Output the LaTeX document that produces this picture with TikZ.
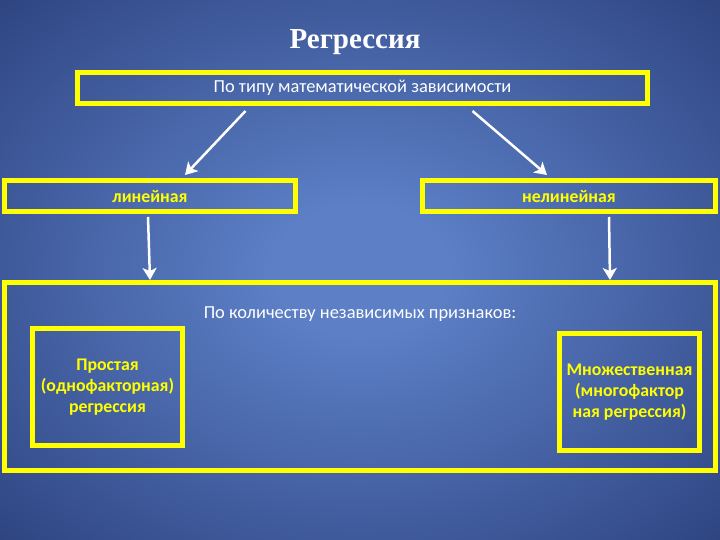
\documentclass[tikz,border=0pt]{standalone}
\usepackage{fontspec}
\setmainfont{Carlito}
\newfontfamily\titlefont{Liberation Serif}
\usetikzlibrary{arrows.meta}
\definecolor{bgc}{RGB}{92,127,198}
\definecolor{bge}{RGB}{24,40,96}
\definecolor{ylw}{RGB}{255,255,0}
\pgfdeclareradialshading{bgshade}{\pgfpoint{0bp}{0bp}}{color(0bp)=(bgc); color(6bp)=(bgc); color(50bp)=(bge); color(75bp)=(bge)}
\tikzset{
  ybox/.style={draw=ylw, line width=5pt, inner sep=0pt, align=center},
  wtext/.style={text=white, font=\fontsize{18.4}{21}\selectfont},
  ytext/.style={text=ylw, font=\fontsize{17.8}{21}\selectfont\bfseries},
  arr/.style={draw=white, line width=2.5pt, -{Stealth[length=12pt,width=14pt,inset=3pt]}}
}
\begin{document}
\begin{tikzpicture}[x=1pt,y=-1pt]
\useasboundingbox (0,0) rectangle (720,540);
\shade[shading=bgshade] (0,0) rectangle (720,540);
\node[text=white, font=\titlefont\fontsize{29}{32}\selectfont\bfseries] (title) at (355,42) {Регрессия};
\node[ybox, wtext, minimum width=570pt, minimum height=31pt] (top) at (362.5,88) {По типу математической зависимости};
\node[ybox, ytext, minimum width=291pt, minimum height=31pt] (lin) at (150,196) {линейная};
\node[ybox, ytext, minimum width=293pt, minimum height=31pt] (nonlin) at (569,196) {нелинейная};
\node[ybox, minimum width=711pt, minimum height=188pt] (big) at (360,376.5) {};
\node[wtext] (count) at (360,314) {По количеству независимых признаков:};
\node[ybox, ytext, minimum width=150pt, minimum height=117pt] (simple) at (107.5,387) {Простая\\(однофакторная)\\регрессия};
\node[ybox, ytext, minimum width=140pt, minimum height=117pt] (multi) at (629.5,392) {Множественная\\(многофактор\\ная регрессия)};
\draw[arr] ([xshift=-117pt,yshift=-5pt]top.south) -- ([xshift=35pt,yshift=3pt]lin.north);
\draw[arr] ([xshift=110pt,yshift=-5pt]top.south) -- ([xshift=-22pt,yshift=3pt]nonlin.north);
\draw[arr] ([xshift=-2pt,yshift=-3pt]lin.south) -- ([xshift=150pt-360pt,yshift=0pt]big.north);
\draw[arr] ([xshift=40pt,yshift=-3pt]nonlin.south) -- ([xshift=250pt,yshift=0pt]big.north);
\end{tikzpicture}
\end{document}
